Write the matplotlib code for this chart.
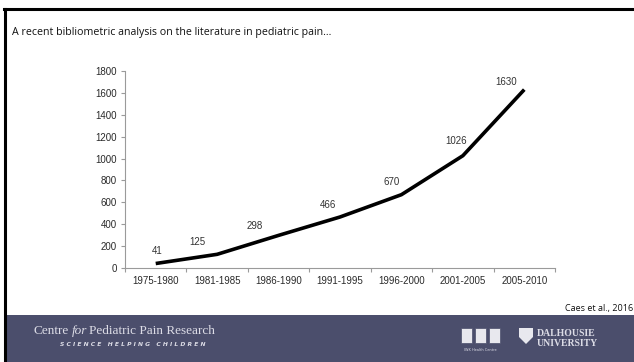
import matplotlib
matplotlib.use("Agg")
import matplotlib.pyplot as plt
from matplotlib.patches import Rectangle, Polygon
import numpy as np

# data
periods = ['1975-1980', '1981-1985', '1986-1990', '1991-1995',
           '1996-2000', '2001-2005', '2005-2010']
papers = [41, 125, 298, 466, 670, 1026, 1630]
yticks = list(range(0, 1801, 200))

# label offsets (pixels) to mimic where Excel put them
label_off = [(1, 8), (-20, 7), (-24, 4), (-12, 7), (-10, 8), (-7, 10), (-18, 3)]

W, H = 634, 362
fig = plt.figure(figsize=(W / 100, H / 100), dpi=100)
fig.patch.set_facecolor('white')

def fx(px):
    return px / W

def fy(py):
    return 1 - py / H

# slide frame and footer
fig.patches.append(Rectangle((fx(7), 0), 1 - fx(7), 47 / H, transform=fig.transFigure,
                             facecolor='#4b4e6c', edgecolor='none', zorder=0))
fig.lines.append(plt.Line2D([fx(5), fx(5)], [0, fy(9)], transform=fig.transFigure,
                            color='black', linewidth=2.2))
fig.lines.append(plt.Line2D([fx(4), 1], [fy(9), fy(9)], transform=fig.transFigure,
                            color='black', linewidth=2.2))

fig.text(fx(12), fy(32), 'A recent bibliometric analysis on the literature in pediatric pain...',
         fontsize=7.7, family='Open Sans', color='#111111', va='center', ha='left')
fig.text(fx(633), fy(309), 'Caes et al., 2016', fontsize=6.5, family='Open Sans',
         color='#111111', va='center', ha='right')

# chart
ax = fig.add_axes([fx(125), fy(268), fx(555) - fx(125), (268 - 71) / H])
x = np.arange(len(periods))
ax.plot(x, papers, color='black', linewidth=2.6, solid_capstyle='butt', zorder=3)
for xi, v, (dx, dy) in zip(x, papers, label_off):
    ax.annotate(str(v), (xi, v), xytext=(dx, dy), textcoords='offset pixels',
                ha='center', va='bottom', fontsize=7, color='#333333',
                family='Liberation Sans')

ax.set_xlim(-0.5, len(periods) - 0.5)
ax.set_ylim(0, 1800)
ax.set_yticks(yticks)
ax.set_yticklabels([str(t) for t in yticks])
ax.set_xticks(x)
ax.set_xticklabels(periods)
ax.set_xticks(np.arange(-0.5, len(periods)), minor=True)
ax.tick_params(axis='x', which='major', length=0, pad=6, labelsize=7, labelcolor='#2a2a2a')
ax.tick_params(axis='x', which='minor', length=3, color='#9a9a9a', width=0.8)
ax.tick_params(axis='y', length=3, color='#9a9a9a', width=0.8, pad=3,
               labelsize=7, labelcolor='#2a2a2a')
for lab in ax.get_xticklabels() + ax.get_yticklabels():
    lab.set_family('Liberation Sans')
for s in ['top', 'right']:
    ax.spines[s].set_visible(False)
for s in ['left', 'bottom']:
    ax.spines[s].set_color('#9a9a9a')
    ax.spines[s].set_linewidth(0.8)

# footer text
fc = '#dcdce6'
fig.text(fx(33), fy(331), 'Centre', fontsize=9.5, family='Liberation Serif', color=fc, va='center')
fig.text(fx(72), fy(331), 'for', fontsize=9.5, family='Liberation Serif', style='italic',
         color=fc, va='center')
fig.text(fx(89), fy(331), 'Pediatric Pain Research', fontsize=9.5, family='Liberation Serif',
         color=fc, va='center')
fig.text(fx(60), fy(345), 'S C I E N C E   H E L P I N G   C H I L D R E N', fontsize=4.3,
         family='DejaVu Sans', style='italic', weight='bold', color=fc, va='center')

# IWK logo (three panels)
for px in [461, 475, 489]:
    fig.patches.append(Rectangle((fx(px), fy(343)), 11 / W, 15 / H, transform=fig.transFigure,
                                 facecolor='#e8e8ee', edgecolor='#4b4e6c', linewidth=0.5))
fig.text(fx(480), fy(350), 'IWK Health Centre', fontsize=2.5, color=fc, ha='center', va='center')

# Dalhousie crest and name
shield = [(fx(519), fy(328)), (fx(533), fy(328)), (fx(533), fy(337)),
          (fx(526), fy(344)), (fx(519), fy(337))]
fig.patches.append(Polygon(shield, closed=True, transform=fig.transFigure,
                           facecolor='#e8e8ee', edgecolor='none'))
fig.text(fx(537), fy(333), 'DALHOUSIE', fontsize=7, family='Liberation Serif',
         weight='bold', color=fc, va='center')
fig.text(fx(537), fy(343), 'UNIVERSITY', fontsize=7, family='Liberation Serif',
         weight='bold', color=fc, va='center')

fig.savefig('out.png', dpi=100)
